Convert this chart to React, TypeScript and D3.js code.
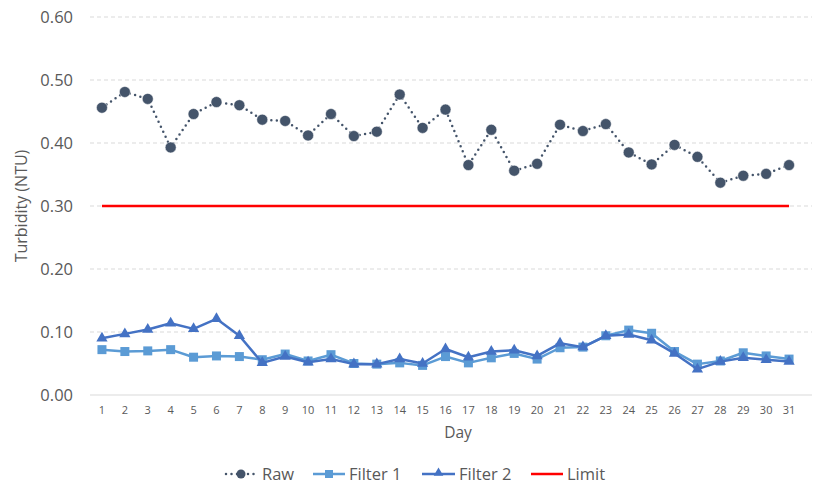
import * as d3 from 'd3';

const days = d3.range(1, 32);
const rawValues = [0.456, 0.481, 0.470, 0.393, 0.446, 0.465, 0.460, 0.437, 0.435, 0.412, 0.446, 0.411, 0.418, 0.477, 0.424, 0.453, 0.365, 0.421, 0.356, 0.367, 0.429, 0.419, 0.430, 0.385, 0.366, 0.397, 0.378, 0.337, 0.348, 0.351, 0.365];
const filter1Values = [0.072, 0.069, 0.070, 0.072, 0.060, 0.062, 0.061, 0.056, 0.065, 0.054, 0.064, 0.050, 0.049, 0.051, 0.047, 0.061, 0.051, 0.059, 0.066, 0.057, 0.075, 0.076, 0.094, 0.103, 0.098, 0.069, 0.049, 0.054, 0.067, 0.062, 0.057];
const filter2Values = [0.090, 0.097, 0.104, 0.114, 0.105, 0.121, 0.094, 0.051, 0.061, 0.052, 0.057, 0.049, 0.049, 0.057, 0.050, 0.073, 0.060, 0.069, 0.071, 0.062, 0.082, 0.076, 0.094, 0.096, 0.087, 0.066, 0.041, 0.053, 0.059, 0.056, 0.053];
const limitValue = 0.3;
const yTicks = [0, 0.1, 0.2, 0.3, 0.4, 0.5, 0.6];

const W = 816;
const H = 486;
const FONT = "'Open Sans', 'Liberation Sans', sans-serif";
const TEXT = '#595959';

const C_RAW = '#44546A';
const C_F1 = '#5B9BD5';
const C_F2 = '#4472C4';
const C_LIM = '#FF0000';

export default function App() {
  const x = d3.scaleBand<number>().domain(days).range([90.5, 800.5]);
  const y = d3.scaleLinear().domain([0, 0.6]).range([395, 17]);
  const cx = (d: number) => (x(d) ?? 0) + x.bandwidth() / 2;

  const line = d3.line<number>().x((_, i) => cx(days[i])).y(v => y(v));
  const tri = d3.symbol(d3.symbolTriangle, 55)();

  return (
    <svg width={W} height={H} style={{ position: 'absolute', left: 0, top: 0, background: '#fff' }} fontFamily={FONT}>
      {/* grid + y labels */}
      {yTicks.map(t => (
        <g key={t}>
          <line x1={90} x2={812} y1={y(t)} y2={y(t)} stroke="#D9D9D9" strokeWidth={1}
            strokeDasharray={t === 0 ? undefined : '4,3'} />
          <text x={73} y={y(t)} dy="0.35em" textAnchor="end" fontSize={16.5} fill={TEXT}>{t.toFixed(2)}</text>
        </g>
      ))}
      {days.map(d => (
        <text key={d} x={cx(d)} y={410} dy="0.35em" textAnchor="middle" fontSize={11} fill={TEXT}>{d}</text>
      ))}
      <text x={458} y={433} dy="0.35em" textAnchor="middle" fontSize={15.5} fill={TEXT}>Day</text>
      <text transform={`translate(21,${y(0.3)}) rotate(-90)`} dy="0.35em" textAnchor="middle" fontSize={16} fill={TEXT}>Turbidity (NTU)</text>

      {/* limit */}
      <line x1={cx(1)} x2={cx(31)} y1={y(limitValue)} y2={y(limitValue)} stroke={C_LIM} strokeWidth={2.5} />

      {/* raw */}
      <path d={line(rawValues) ?? ''} fill="none" stroke={C_RAW} strokeWidth={2.5} strokeDasharray="0,5.5" strokeLinecap="round" />
      {rawValues.map((v, i) => (
        <circle key={i} cx={cx(days[i])} cy={y(v)} r={5.5} fill={C_RAW} stroke="#fff" strokeWidth={0.5} />
      ))}

      {/* filter 1 */}
      <path d={line(filter1Values) ?? ''} fill="none" stroke={C_F1} strokeWidth={2.5} strokeLinejoin="round" />
      {filter1Values.map((v, i) => (
        <rect key={i} x={cx(days[i]) - 4.5} y={y(v) - 4.5} width={9} height={9} fill={C_F1} />
      ))}

      {/* filter 2 */}
      <path d={line(filter2Values) ?? ''} fill="none" stroke={C_F2} strokeWidth={2.5} strokeLinejoin="round" />
      {filter2Values.map((v, i) => (
        <path key={i} d={tri ?? ''} transform={`translate(${cx(days[i])},${y(v)})`} fill={C_F2} />
      ))}

      {/* legend */}
      <g fontSize={16.5} fill={TEXT}>
        <line x1={226} x2={256} y1={474} y2={474} stroke={C_RAW} strokeWidth={2.5} strokeDasharray="0,5.5" strokeLinecap="round" />
        <circle cx={241} cy={474} r={4.5} fill={C_RAW} />
        <text x={262} y={474} dy="0.35em">Raw</text>

        <line x1={313} x2={345} y1={474} y2={474} stroke={C_F1} strokeWidth={2.5} />
        <rect x={325} y={470} width={8} height={8} fill={C_F1} />
        <text x={349} y={474} dy="0.35em">Filter 1</text>

        <line x1={422} x2={455} y1={474} y2={474} stroke={C_F2} strokeWidth={2.5} />
        <path d={d3.symbol(d3.symbolTriangle, 40)() ?? ''} transform="translate(438.5,473)" fill={C_F2} />
        <text x={459} y={474} dy="0.35em">Filter 2</text>

        <line x1={531} x2={563} y1={474} y2={474} stroke={C_LIM} strokeWidth={2.5} />
        <text x={567} y={474} dy="0.35em">Limit</text>
      </g>
    </svg>
  );
}
